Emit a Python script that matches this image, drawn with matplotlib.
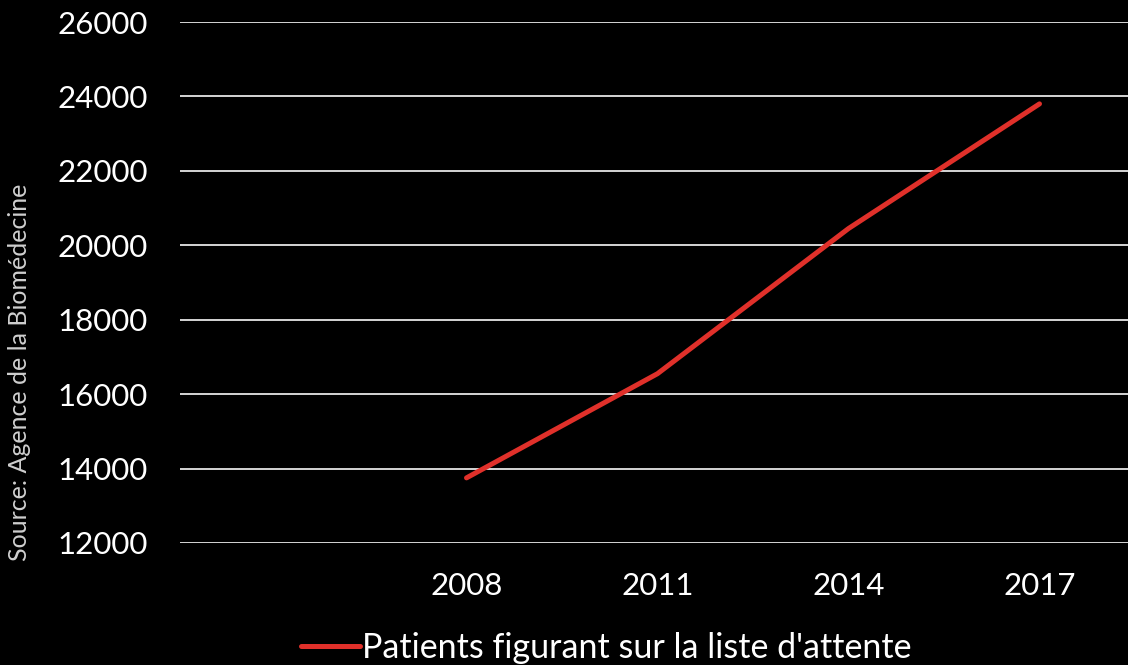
import numpy as np
import matplotlib
matplotlib.use("Agg")
import matplotlib.pyplot as plt

# data
categories = ["", "2008", "2011", "2014", "2017"]
patients = [np.nan, 13750, 16550, 20450, 23800]
yticks = [12000, 14000, 16000, 18000, 20000, 22000, 24000, 26000]
series_label = "Patients figurant sur la liste d'attente"
source = "Source: Agence de la Biomédecine"

plt.rcParams['font.family'] = ['Lato', 'DejaVu Sans']

fig = plt.figure(figsize=(11.28, 6.65), dpi=100, facecolor='black')
ax = fig.add_axes([180/1128, 1-543/665, (1135-180)/1128, (543-22)/665])
ax.set_facecolor('black')

x = np.arange(len(categories))
line, = ax.plot(x, patients, color='#e0302a', lw=3.6, solid_capstyle='round',
                solid_joinstyle='round', label=series_label)

ax.set_xlim(-0.5, len(categories) - 0.5)
ax.set_ylim(yticks[0], yticks[-1])
ax.set_yticks(yticks)
ax.set_yticklabels([str(v) for v in yticks])
ax.set_xticks(x)
ax.set_xticklabels(categories)

ax.grid(axis='y', color='#e6e6e6', lw=1.3)
ax.set_axisbelow(True)
for s in ax.spines.values():
    s.set_visible(False)
ax.tick_params(axis='both', length=0, colors='white', labelsize=22.5)
ax.tick_params(axis='y', pad=23)
ax.tick_params(axis='x', pad=21)

fig.legend(handles=[line], loc='center', bbox_to_anchor=(606/1128, 1-648/665),
           frameon=False, fontsize=24.5, labelcolor='white', handlelength=1.75,
           handletextpad=0.05, borderpad=0)

fig.text(20/1128, 1-372/665, source, rotation=90, color='#cfcfcf', fontsize=18,
         ha='center', va='center')

fig.savefig("out.png", dpi=100, facecolor='black')
